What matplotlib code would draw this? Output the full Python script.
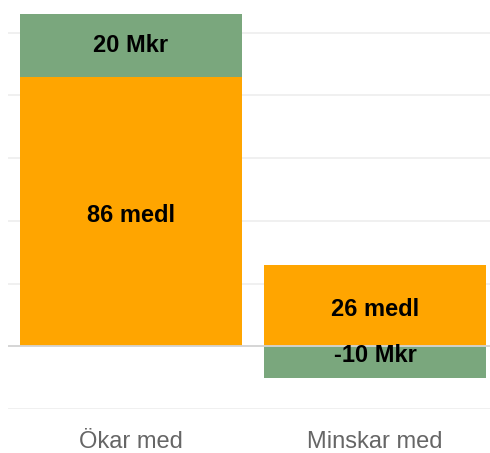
import numpy as np
import matplotlib.pyplot as plt

# data
categories = ["Ökar med", "Minskar med"]
medl = [86, 26]
mkr = [20, -10]

ORANGE = "#ffa500"
GREEN = "#7aa77d"

plt.rcParams['font.family'] = ['Liberation Sans', 'DejaVu Sans']

fig = plt.figure(figsize=(4.9, 4.53), dpi=100)
W, H = 490, 453
# axes in pixels: left 8, right 490, top 13, bottom 409
ax = fig.add_axes([8 / W, (H - 409) / H, 482 / W, 396 / H])

x = np.arange(len(categories))
medl_a = np.array(medl)
mkr_a = np.array(mkr)
mkr_bottom = np.where(mkr_a >= 0, medl_a, 0)

ax.bar(x, medl_a, width=0.91, color=ORANGE, zorder=2)
ax.bar(x, mkr_a, bottom=mkr_bottom, width=0.91, color=GREEN, zorder=2)

for i in range(len(categories)):
    ax.annotate(f"{medl[i]} medl", (x[i], medl_a[i] / 2), xytext=(0, -3),
                textcoords='offset points', ha='center', va='center',
                fontsize=17, fontweight='bold', color='black', zorder=3)
    y = mkr_bottom[i] + mkr_a[i] / 2
    dy = 0
    if mkr_a[i] < 0:
        dy = 5  # label sits a little above the segment centre
    ax.annotate(f"{mkr[i]} Mkr", (x[i], y), xytext=(0, dy), textcoords='offset points',
                ha='center', va='center', fontsize=17, fontweight='bold',
                color='black', zorder=3)

ax.set_xlim(-0.504, 1.471)
ax.set_ylim(-20, 106.3)
ax.set_yticks(np.arange(-20, 101, 20))
ax.set_yticklabels([])
ax.grid(axis='y', color='#efefef', linewidth=1.3, zorder=0)
ax.axhline(0, color='#d4d4d4', linewidth=1.3, zorder=2.5)

ax.set_xticks(x)
ax.set_xticklabels(categories, fontsize=17, color='#666666')
ax.tick_params(axis='x', length=0, pad=16)
ax.tick_params(axis='y', length=0)
for s in ax.spines.values():
    s.set_visible(False)

plt.savefig("out.png", dpi=100)
